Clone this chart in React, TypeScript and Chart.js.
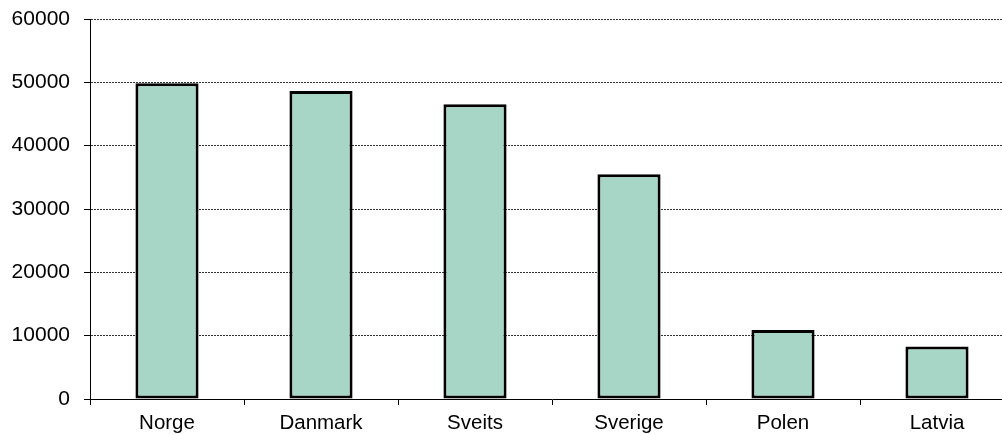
import React, { useEffect, useRef } from "react";
import { Chart, registerables } from "chart.js";

Chart.register(...registerables);

const categories = ["Norge", "Danmark", "Sveits", "Sverige", "Polen", "Latvia"];
const values = [49850, 48650, 46550, 35500, 10900, 8300];
const yTicks = [0, 10000, 20000, 30000, 40000, 50000, 60000];

const FONT = "'Liberation Sans', Arial, sans-serif";

export default function App() {
  const ref = useRef<HTMLCanvasElement | null>(null);
  useEffect(() => {
    document.body.style.margin = "0";
    const ctx = ref.current!;
    const chart = new Chart(ctx, {
      type: "bar",
      data: {
        labels: categories,
        datasets: [
          {
            data: values,
            backgroundColor: "#a7d5c6",
            borderColor: "#000000",
            borderWidth: 3,
            borderSkipped: false,
            barPercentage: 0.41,
            categoryPercentage: 1,
          },
        ],
      },
      options: {
        animation: false,
        responsive: false,
        maintainAspectRatio: false,
        layout: { padding: { top: 19, right: 2, left: 0, bottom: 0 } },
        plugins: { legend: { display: false }, tooltip: { enabled: false } },
        scales: {
          x: {
            afterFit: (s: any) => {
              s.height = 36;
              s.paddingLeft = 0;
              s.paddingRight = 0;
            },
            grid: {
              drawOnChartArea: false,
              drawTicks: true,
              tickLength: 6,
              tickColor: "#000",
              offset: true,
            },
            border: { display: true, color: "#000", width: 1 },
            ticks: {
              color: "#000",
              font: { family: FONT, size: 20.5 },
              padding: 6,
              maxRotation: 0,
              autoSkip: false,
            },
          },
          y: {
            min: 0,
            max: 60000,
            afterFit: (s: any) => {
              s.width = 90;
              s.paddingTop = 0;
              s.paddingBottom = 0;
            },
            afterBuildTicks: (s: any) => {
              s.ticks = yTicks.map((v) => ({ value: v }));
            },
            grid: {
              color: "#333",
              lineWidth: 1,
              tickLength: 6,
              tickColor: "#000",
              tickBorderDash: [],
            },
            border: { display: true, color: "#000", width: 1, dash: [2, 1] },
            ticks: {
              color: "#000",
              font: { family: FONT, size: 21 },
              padding: 14,
              callback: (v: any) => String(v),
            },
          },
        },
      },
    });
    return () => chart.destroy();
  }, []);
  return (
    <div style={{ width: 1002, height: 435, overflow: "hidden" }}>
      <canvas ref={ref} width={1016} height={435} style={{ display: "block" }} />
    </div>
  );
}
